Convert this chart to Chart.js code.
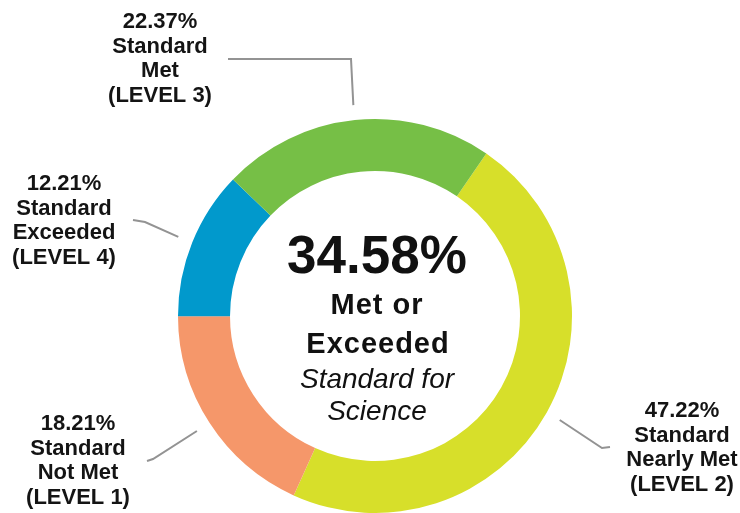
<!DOCTYPE html>
<html>
<head>
<meta charset="utf-8">
<script src="https://cdn.jsdelivr.net/npm/chart.js@4.4.0/dist/chart.umd.min.js"></script>
<style>
  html, body { margin: 0; padding: 0; background: #fff; }
  #wrap { width: 740px; height: 513px; }
</style>
</head>
<body>
<div id="wrap"><canvas id="myChart" width="740" height="513"></canvas></div>
<script>
// clockwise from the green/yellow boundary
const niveles = ['LEVEL 2', 'LEVEL 1', 'LEVEL 4', 'LEVEL 3'];
const estandares = ['Nearly Met', 'Not Met', 'Exceeded', 'Met'];
const porcentajes = [47.22, 18.21, 12.21, 22.37];
const colores = ['#D7DF2A', '#F5976A', '#0199CC', '#76BF46'];
const totalCentro = 34.58;
const textoCentro = ['Met or', 'Exceeded', 'Standard for', 'Science'];

// where each label block sits, and the elbow points of its leader line
const etiquetas = [
  { x: 682, y: 417, linea: [[602, 448], [610, 447]] },
  { x: 78, y: 430, linea: [[153, 459], [147, 461]] },
  { x: 64, y: 190, linea: [[145, 222], [133, 220]] },
  { x: 160, y: 28, linea: [[351, 59], [228, 59]] }
];

const etiquetasPlugin = {
  id: 'etiquetas',
  afterDatasetsDraw(chart) {
    const ctx = chart.ctx;
    const meta = chart.getDatasetMeta(0);
    ctx.save();
    meta.data.forEach((arc, i) => {
      const e = etiquetas[i];
      const mid = (arc.startAngle + arc.endAngle) / 2;
      const r = arc.outerRadius + 15;
      ctx.strokeStyle = '#939393';
      ctx.lineWidth = 2;
      ctx.beginPath();
      ctx.moveTo(arc.x + Math.cos(mid) * r, arc.y + Math.sin(mid) * r);
      e.linea.forEach(p => ctx.lineTo(p[0], p[1]));
      ctx.stroke();

      const lineas = [porcentajes[i].toFixed(2) + '%', 'Standard', estandares[i], '(' + niveles[i] + ')'];
      ctx.fillStyle = '#141414';
      ctx.font = 'bold 22px "Liberation Sans", Arial, sans-serif';
      ctx.textAlign = 'center';
      ctx.textBaseline = 'alphabetic';
      lineas.forEach((t, j) => ctx.fillText(t, e.x, e.y + j * 24.5));
    });

    // center text
    const cx = 377;
    ctx.fillStyle = '#111';
    ctx.textAlign = 'center';
    ctx.font = 'bold 53px "Liberation Sans", Arial, sans-serif';
    ctx.fillText(totalCentro.toFixed(2) + '%', cx, 273);
    ctx.letterSpacing = '1px';
    ctx.font = 'bold 29px "Liberation Sans", Arial, sans-serif';
    ctx.fillText(textoCentro[0], cx, 314);
    ctx.fillText(textoCentro[1], cx + 1, 353);
    ctx.letterSpacing = '0px';
    ctx.font = 'italic 28px "Liberation Sans", Arial, sans-serif';
    ctx.fillText(textoCentro[2], cx, 388);
    ctx.fillText(textoCentro[3], cx, 420);
    ctx.restore();
  }
};

const myChart = new Chart(document.getElementById('myChart'), {
  type: 'doughnut',
  data: {
    labels: estandares,
    datasets: [{
      data: porcentajes,
      backgroundColor: colores,
      borderWidth: 0,
      hoverOffset: 0,
      offset: 0
    }]
  },
  options: {
    responsive: false,
    animation: false,
    rotation: 34.4,
    cutout: '73.6%',
    events: [],
    plugins: {
      legend: { display: false },
      tooltip: { enabled: false }
    },
    layout: {
      padding: { left: 178, right: 168, top: 119, bottom: 0 }
    }
  },
  plugins: [etiquetasPlugin]
});
</script>
</body>
</html>
